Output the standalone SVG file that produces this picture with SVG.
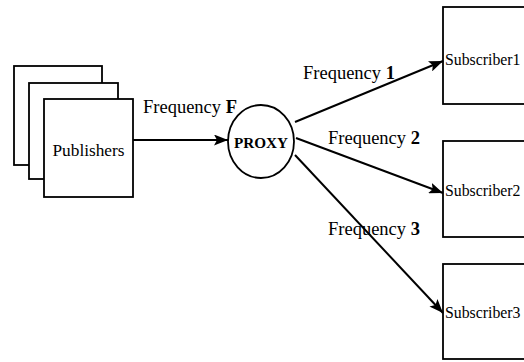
<svg xmlns="http://www.w3.org/2000/svg" width="524" height="362" viewBox="0 0 524 362">
<style>
.box{fill:#fff;stroke:#000;stroke-width:1.8}
.t{font-family:"Liberation Serif","Times New Roman",serif;fill:#000}
.lbl{font-size:18.5px}
.sub{font-size:15.8px}
.edge{stroke:#000;stroke-width:2;fill:none;marker-end:url(#ah)}
</style>
<defs>
<marker id="ah" markerUnits="userSpaceOnUse" markerWidth="15" markerHeight="11" refX="14" refY="5.5" orient="auto">
<path d="M0,0 L14,5.5 L0,11 L3,5.5 Z" fill="#000"/>
</marker>
</defs>
<rect width="524" height="362" fill="#fff"/>
<g id="publishers">
<rect class="box" x="14" y="66" width="88" height="99"/>
<rect class="box" x="29" y="83" width="89" height="96"/>
<rect class="box" x="44" y="99" width="89" height="98"/>
<text class="t" x="88.5" y="156" font-size="17.3" text-anchor="middle">Publishers</text>
</g>
<g id="proxy">
<ellipse cx="261" cy="141.5" rx="33" ry="36.5" fill="#fff" stroke="#000" stroke-width="1.8"/>
<text class="t" x="261" y="148" font-size="15.2" font-weight="bold" text-anchor="middle">PROXY</text>
</g>
<g id="subscriber1">
<rect class="box" x="443" y="7" width="100" height="97"/>
<text class="t sub" x="445" y="65">Subscriber1</text>
</g>
<g id="subscriber2">
<rect class="box" x="443" y="141" width="100" height="96"/>
<text class="t sub" x="445" y="196">Subscriber2</text>
</g>
<g id="subscriber3">
<rect class="box" x="443" y="264" width="100" height="95"/>
<text class="t sub" x="445" y="318">Subscriber3</text>
</g>
<g id="connectors">
<line class="edge" x1="133" y1="140" x2="228" y2="140"/>
<line class="edge" x1="295" y1="122" x2="443" y2="61"/>
<line class="edge" x1="296" y1="138" x2="443" y2="193"/>
<line class="edge" x1="295" y1="155" x2="443" y2="313"/>
</g>
<g id="labels">
<text class="t lbl" x="143" y="113">Frequency <tspan font-weight="bold">F</tspan></text>
<text class="t lbl" x="303" y="79">Frequency <tspan font-weight="bold">1</tspan></text>
<text class="t lbl" x="328" y="144">Frequency <tspan font-weight="bold">2</tspan></text>
<text class="t lbl" x="328" y="235">Frequency <tspan font-weight="bold">3</tspan></text>
</g>
</svg>
